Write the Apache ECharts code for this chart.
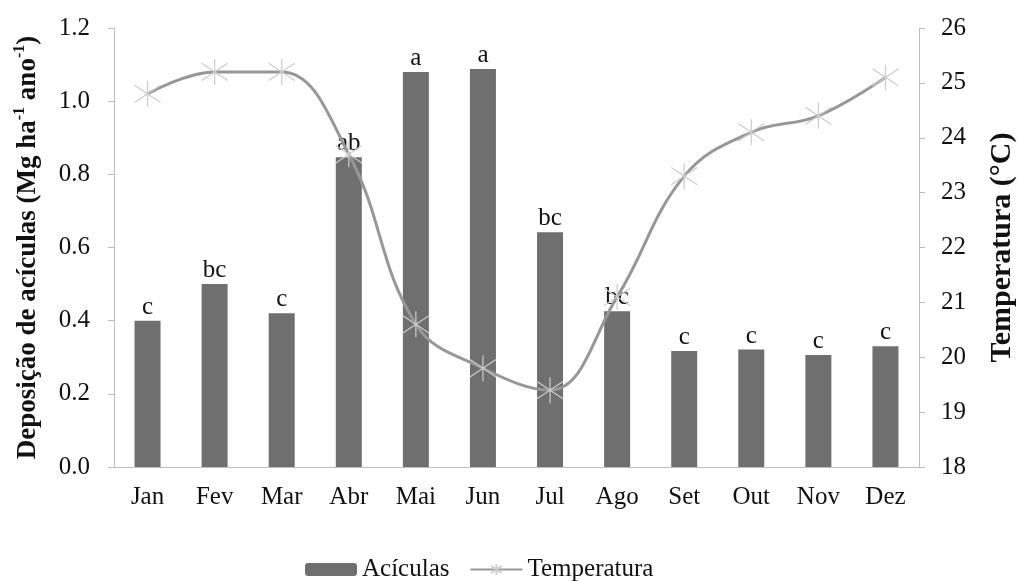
<!DOCTYPE html>
<html lang="pt">
<head>
    <meta charset="utf-8">
    <title>Deposição de acículas</title>
    <script src="https://cdn.jsdelivr.net/npm/echarts@6.0.0/dist/echarts.min.js"></script>
    <style>
        html, body { margin: 0; padding: 0; background: #fff; }
        #chart { width: 1017px; height: 581px; }
    </style>
</head>
<body>
<div id="chart"></div>
<script type="text/javascript">
    // meses
    var meses = ['Jan', 'Fev', 'Mar', 'Abr', 'Mai', 'Jun', 'Jul', 'Ago', 'Set', 'Out', 'Nov', 'Dez'];
    // deposição de acículas (Mg ha-1 ano-1)
    var aciculas = [0.40, 0.50, 0.42, 0.847, 1.08, 1.088, 0.642, 0.426, 0.317, 0.321, 0.306, 0.33];
    // letras do teste de médias
    var letras = ['c', 'bc', 'c', 'ab', 'a', 'a', 'bc', 'bc', 'c', 'c', 'c', 'c'];
    // temperatura média (°C)
    var temperatura = [24.8, 25.2, 25.2, 23.7, 20.6, 19.8, 19.4, 21.1, 23.3, 24.1, 24.4, 25.1];

    var fonte = 'Liberation Serif';
    var asterisco = 'path://M0,-12L0,12M-12,-8L12,8M-12,8L12,-8';

    var myChart = echarts.init(document.getElementById('chart'));
    var option = {
        animation: false,
        textStyle: { fontFamily: fonte },
        grid: { left: 114, right: 98, top: 28, bottom: 114, containLabel: false, outerBoundsMode: 'none' },
        legend: {
            top: 552,
            left: 300,
            itemGap: 20,
            itemWidth: 52,
            itemHeight: 13,
            textStyle: { fontFamily: fonte, fontSize: 25, color: '#111' },
            data: ['Acículas', 'Temperatura']
        },
        xAxis: {
            type: 'category',
            data: meses,
            axisLine: { lineStyle: { color: '#bdbdbd', width: 1 } },
            axisTick: { length: 6, lineStyle: { color: '#bdbdbd' } },
            axisLabel: { fontFamily: fonte, fontSize: 25, color: '#111', margin: 18 }
        },
        yAxis: [{
            type: 'value',
            min: 0,
            max: 1.2,
            interval: 0.2,
            name: '{t|Deposição de acículas (Mg ha}{s|-1}{t| ano}{s|-1}{t|)}',
            nameLocation: 'middle',
            nameGap: 72,
            nameTextStyle: {
                rich: {
                    t: { fontFamily: fonte, fontSize: 27, fontWeight: 'bold', color: '#111', lineHeight: 30, verticalAlign: 'bottom' },
                    s: { fontFamily: fonte, fontSize: 16, fontWeight: 'bold', color: '#111', lineHeight: 30, verticalAlign: 'top' }
                }
            },
            axisLine: { show: true, lineStyle: { color: '#bdbdbd' } },
            axisTick: { show: true, length: 6, lineStyle: { color: '#bdbdbd' } },
            splitLine: { show: false },
            axisLabel: {
                fontFamily: fonte, fontSize: 25, color: '#111', margin: 24,
                formatter: function (v) { return v.toFixed(1); }
            }
        }, {
            type: 'value',
            min: 18,
            max: 26,
            interval: 1,
            name: 'Temperatura (°C)',
            nameLocation: 'middle',
            nameGap: 68,
            nameRotate: 90,
            nameTextStyle: { fontFamily: fonte, fontSize: 30, fontWeight: 'bold', color: '#111' },
            axisLine: { show: true, lineStyle: { color: '#bdbdbd' } },
            axisTick: { show: true, length: 6, lineStyle: { color: '#bdbdbd' } },
            splitLine: { show: false },
            axisLabel: { fontFamily: fonte, fontSize: 25, color: '#111', margin: 22 }
        }],
        series: [{
            name: 'Acículas',
            type: 'bar',
            yAxisIndex: 0,
            barWidth: 26,
            itemStyle: { color: '#6f6f6f' },
            label: {
                show: true,
                position: 'top',
                distance: 1,
                fontFamily: fonte,
                fontSize: 25,
                color: '#111',
                formatter: function (p) { return letras[p.dataIndex]; }
            },
            data: aciculas
        }, {
            name: 'Temperatura',
            type: 'line',
            yAxisIndex: 1,
            smooth: 0.4,
            symbol: asterisco,
            symbolSize: 26,
            lineStyle: { color: '#979797', width: 3 },
            itemStyle: { color: 'rgba(0,0,0,0)', borderColor: '#cccccc', borderWidth: 1.2 },
            data: temperatura
        }]
    };
    myChart.setOption(option);
</script>
</body>
</html>
